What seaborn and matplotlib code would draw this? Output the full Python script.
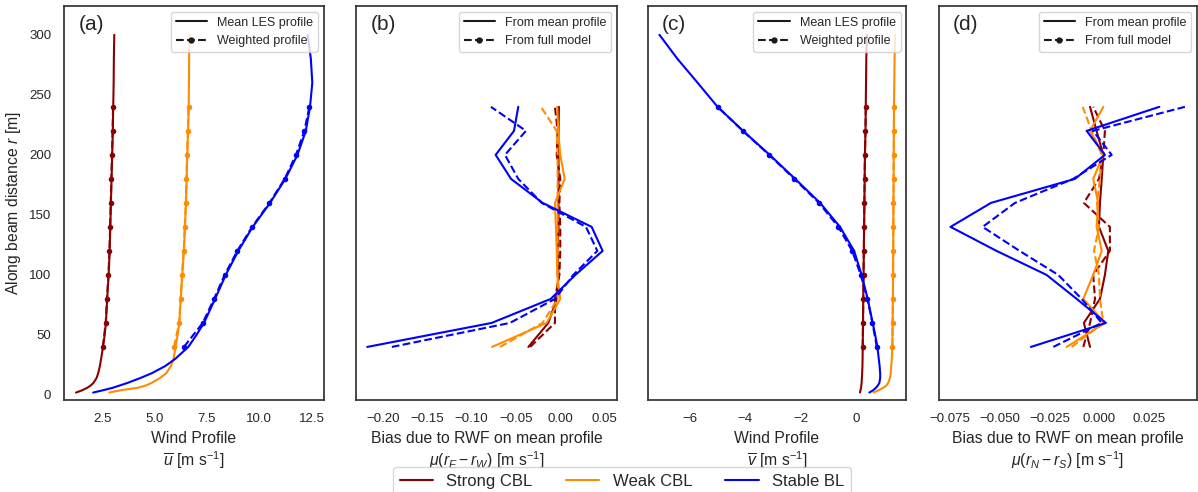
import matplotlib
matplotlib.use("Agg")
import matplotlib.pyplot as plt
from matplotlib.lines import Line2D
import seaborn as sns

# ---------------- data ----------------
cases = ["Strong CBL", "Weak CBL", "Stable BL"]
case_colors = ["darkred", "darkorange", "blue"]

# heights of the mean LES profile [m]
z_les = [2, 4, 6, 8, 10, 14, 18, 24, 30, 40, 50, 60, 80, 100, 120, 140, 160,
         180, 200, 220, 240, 260, 280, 300]
# heights of the weighted / bias points [m]
z_w = [40, 60, 80, 100, 120, 140, 160, 180, 200, 220, 240]

# (a) mean LES u profile
u_strong = [1.24, 1.55, 1.78, 1.95, 2.07, 2.22, 2.30, 2.38, 2.44, 2.53, 2.61, 2.67,
            2.73, 2.80, 2.85, 2.88, 2.91, 2.94, 2.97, 3.00, 3.02, 3.04, 3.05, 3.07]
u_weak = [2.83, 3.40, 4.20, 4.60, 4.85, 5.25, 5.55, 5.78, 5.90, 6.00, 6.10, 6.18,
          6.25, 6.32, 6.40, 6.45, 6.50, 6.53, 6.56, 6.60, 6.63, 6.64, 6.65, 6.66]
u_stable = [2.06, 2.55, 3.00, 3.35, 3.70, 4.30, 4.85, 5.50, 5.98, 6.61, 7.00, 7.36,
            7.89, 8.40, 9.00, 9.69, 10.52, 11.25, 11.83, 12.23, 12.43, 12.54, 12.47, 12.32]
# (a) weighted u profile
uw_strong = [2.52, 2.66, 2.72, 2.79, 2.84, 2.87, 2.90, 2.93, 2.96, 2.99, 3.01]
uw_weak = [5.93, 6.17, 6.24, 6.31, 6.39, 6.44, 6.49, 6.52, 6.55, 6.59, 6.62]
uw_stable = [6.40, 7.30, 7.84, 8.35, 8.95, 9.66, 10.49, 11.22, 11.76, 12.16, 12.40]

# (b) bias mu(r_E - r_W)
bE_strong_mean = [-0.036, -0.0135, -0.004, -0.002, -0.003, -0.002, -0.002, -0.002, -0.002, -0.002, -0.0015]
bE_weak_mean = [-0.077, -0.0154, 0.000, -0.0034, -0.004, -0.0049, -0.006, 0.005, 0.000, -0.0023, -0.0034]
bE_stable_mean = [-0.2178, -0.0774, -0.0108, 0.017, 0.0478, 0.0354, -0.0199, -0.0556, -0.0729, -0.0522, -0.0474]
bE_strong_full = [-0.034, -0.006, -0.006, -0.001, 0.000, 0.000, -0.001, 0.000, -0.004, -0.003, -0.006]
bE_weak_full = [-0.068, -0.020, -0.003, -0.003, -0.003, -0.003, -0.003, -0.003, -0.003, -0.004, -0.0218]
bE_stable_full = [-0.190, -0.0568, -0.006, 0.0147, 0.0418, 0.029, -0.021, -0.0474, -0.0624, -0.0387, -0.0782]

# (c) mean LES v profile
v_strong = [0.14, 0.16, 0.18, 0.19, 0.20, 0.21, 0.22, 0.23, 0.235, 0.24, 0.245, 0.25,
            0.26, 0.27, 0.28, 0.29, 0.30, 0.31, 0.32, 0.34, 0.35, 0.36, 0.37, 0.39]
v_weak = [0.63, 0.82, 0.98, 1.10, 1.16, 1.22, 1.25, 1.27, 1.29, 1.31, 1.315, 1.32,
          1.33, 1.335, 1.34, 1.345, 1.35, 1.355, 1.36, 1.365, 1.37, 1.38, 1.39, 1.41]
v_stable = [0.48, 0.62, 0.72, 0.79, 0.84, 0.87, 0.87, 0.85, 0.82, 0.77, 0.69, 0.60,
            0.42, 0.20, -0.07, -0.58, -1.30, -2.20, -3.12, -4.08, -5.00, -5.72, -6.45, -7.10]
# (c) weighted v profile
vw_strong = [0.24, 0.25, 0.26, 0.27, 0.28, 0.29, 0.30, 0.31, 0.32, 0.34, 0.35]
vw_weak = [1.31, 1.32, 1.33, 1.335, 1.34, 1.345, 1.35, 1.355, 1.36, 1.365, 1.37]
vw_stable = [0.75, 0.59, 0.41, 0.17, -0.14, -0.64, -1.34, -2.23, -3.14, -4.09, -5.00]

# (d) bias mu(r_N - r_S)
bN_strong_mean = [-0.0045, -0.0076, 0.0005, 0.003, 0.0047, 0.000, 0.0005, 0.0014, 0.0022, -0.0012, -0.0045]
bN_weak_mean = [-0.0163, 0.003, -0.0079, -0.0029, 0.0014, -0.0012, -0.0004, -0.0029, 0.0022, -0.0045, 0.0022]
bN_stable_mean = [-0.0343, 0.0035, -0.0112, -0.0264, -0.0516, -0.0748, -0.0544, -0.0121, 0.003, -0.0062, 0.0304]
bN_strong_full = [-0.0079, -0.0045, -0.002, -0.0029, 0.0055, 0.0055, -0.0076, 0.000, 0.0022, 0.003, -0.0029]
bN_weak_full = [-0.0138, 0.0022, 0.0005, 0.000, -0.0025, 0.000, -0.001, 0.0005, 0.0014, -0.0037, -0.0082]
bN_stable_full = [-0.023, 0.0014, -0.0087, -0.0205, -0.040, -0.0586, -0.0423, -0.013, 0.0064, -0.003, 0.0433]

# ---------------- style ----------------
sns.set_theme(style="white")
plt.rcParams["font.family"] = ["Liberation Sans", "DejaVu Sans"]
plt.rcParams["mathtext.fontset"] = "custom"
plt.rcParams["mathtext.rm"] = "Liberation Sans"
plt.rcParams["mathtext.it"] = "Liberation Sans:italic"
plt.rcParams["mathtext.bf"] = "Liberation Sans:bold"

W, H = 1198, 492
fig = plt.figure(figsize=(W / 100, H / 100), dpi=100)

bot = 1 - 400 / H
hgt = 394 / H
rects = [(64.3, 259.3), (356.4, 260.6), (647.8, 258.4), (939.0, 258.0)]
axes = [fig.add_axes([l / W, bot, w / W, hgt]) for l, w in rects]

lw = 1.5
ms = 4

def profile(ax, vals, z, color, dashed=False, marker=None):
    kw = dict(linestyle="--") if dashed else {}
    if marker:
        kw.update(marker=marker, markersize=ms, markeredgewidth=0)
    sns.lineplot(x=vals, y=z, sort=False, estimator=None, color=color,
                 linewidth=lw, ax=ax, **kw)

# (a)
ax = axes[0]
for vals, wvals, c in zip([u_strong, u_weak, u_stable],
                          [uw_strong, uw_weak, uw_stable], case_colors):
    profile(ax, vals, z_les, c)
    profile(ax, wvals, z_w, c, dashed=True, marker="o")
ax.set_xlim(0.68, 13.08)
ax.set_xticks([2.5, 5.0, 7.5, 10.0, 12.5])
ax.set_xlabel("Wind Profile\n$\\overline{u}$ [m s$^{-1}$]")
ax.set_ylabel("Along beam distance $r$ [m]")

# (b)
ax = axes[1]
for m, f, c in zip([bE_strong_mean, bE_weak_mean, bE_stable_mean],
                   [bE_strong_full, bE_weak_full, bE_stable_full], case_colors):
    profile(ax, m, z_w, c)
    profile(ax, f, z_w, c, dashed=True)
ax.set_xlim(-0.230, 0.064)
ax.set_xticks([-0.20, -0.15, -0.10, -0.05, 0.00, 0.05])
ax.set_xlabel("Bias due to RWF on mean profile\n$\\mu(r_E - r_W)$ [m s$^{-1}$]")

# (c)
ax = axes[2]
for vals, wvals, c in zip([v_strong, v_weak, v_stable],
                          [vw_strong, vw_weak, vw_stable], case_colors):
    profile(ax, vals, z_les, c)
    profile(ax, wvals, z_w, c, dashed=True, marker="o")
ax.set_xlim(-7.52, 1.81)
ax.set_xticks([-6, -4, -2, 0])
ax.set_xlabel("Wind Profile\n$\\overline{v}$ [m s$^{-1}$]")

# (d)
ax = axes[3]
for m, f, c in zip([bN_strong_mean, bN_weak_mean, bN_stable_mean],
                   [bN_strong_full, bN_weak_full, bN_stable_full], case_colors):
    profile(ax, m, z_w, c)
    profile(ax, f, z_w, c, dashed=True)
ax.set_xlim(-0.0806, 0.0494)
ax.set_xticks([-0.075, -0.050, -0.025, 0.000, 0.025])
ax.set_xticklabels(["\u22120.075", "\u22120.050", "\u22120.025", "0.000", "0.025"])
ax.set_xlabel("Bias due to RWF on mean profile\n$\\mu(r_N - r_S)$ [m s$^{-1}$]")

letters = ["(a)", "(b)", "(c)", "(d)"]
leg_labels = [("Mean LES profile", "Weighted profile"),
              ("From mean profile", "From full model"),
              ("Mean LES profile", "Weighted profile"),
              ("From mean profile", "From full model")]
for i, ax in enumerate(axes):
    ax.set_ylim(-4.2, 324)
    ax.set_yticks([0, 50, 100, 150, 200, 250, 300])
    if i > 0:
        ax.set_yticklabels([])
        ax.set_ylabel("")
    ax.tick_params(labelsize=9.5)
    ax.xaxis.label.set_size(11.3)
    ax.yaxis.label.set_size(11.3)
    ax.text(0.055, 0.952, letters[i], transform=ax.transAxes, fontsize=15,
            ha="left", va="center")
    h = [Line2D([], [], color="k", lw=lw),
         Line2D([], [], color="k", lw=lw, ls="--", marker="o", markersize=3.5)]
    ax.legend(h, leg_labels[i], loc="upper right", fontsize=9, handlelength=2.5,
              borderaxespad=0.45)
    for s in ax.spines.values():
        s.set_color("0.2")

case_handles = [Line2D([], [], color=c, lw=lw) for c in case_colors]
fig.legend(case_handles, cases, loc="upper center", ncol=3, fontsize=12,
           bbox_to_anchor=(622 / W, 1 - 459 / H), columnspacing=2.0)

fig.savefig("out.png", dpi=100)
